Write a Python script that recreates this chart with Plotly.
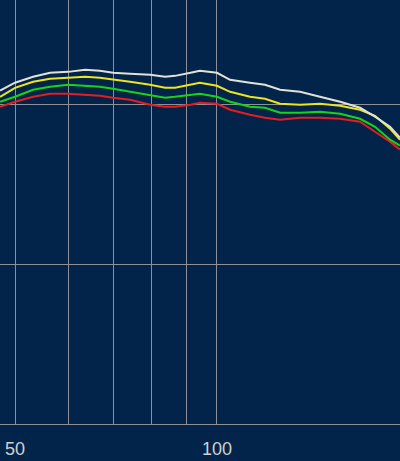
import plotly.graph_objects as go

# Frequencies (Hz)
freq = [47.5, 50, 53.2, 56.4, 60, 63.6, 66.9, 70, 74.2, 79.5, 83.7, 86.6, 91.3,
        94.3, 100, 104.6, 112, 117.9, 124.2, 133, 142.4, 152.6, 163.4, 172, 181.1, 187.4]

# Level curves (dB)
white_vals = [0.88, 1.38, 1.75, 2.0, 2.06, 2.19, 2.13, 2.0, 1.94, 1.88, 1.75, 1.81, 2.0,
              2.13, 2.0, 1.56, 1.38, 1.25, 0.94, 0.81, 0.5, 0.19, -0.19, -0.75, -1.38, -2.06]
yellow_vals = [0.5, 1.06, 1.44, 1.63, 1.69, 1.75, 1.69, 1.56, 1.44, 1.25, 1.06, 1.06, 1.25,
               1.38, 1.19, 0.81, 0.5, 0.38, 0.06, 0.0, 0.06, -0.06, -0.31, -0.69, -1.5, -2.19]
green_vals = [0.19, 0.5, 0.94, 1.13, 1.25, 1.19, 1.13, 1.0, 0.81, 0.56, 0.44, 0.5, 0.63,
              0.69, 0.5, 0.19, -0.13, -0.19, -0.5, -0.5, -0.44, -0.56, -0.88, -1.38, -2.19, -2.56]
red_vals = [-0.13, 0.19, 0.5, 0.69, 0.69, 0.63, 0.56, 0.44, 0.31, 0.0, -0.13, -0.13, 0.0,
            0.13, 0.06, -0.31, -0.63, -0.81, -0.94, -0.81, -0.81, -0.88, -1.06, -1.69, -2.31, -2.81]

x_tickvals = [50, 60, 70, 80, 90, 100]
x_ticktext = ["50", "", "", "", "", "100"]
y_tickvals = [-20, -10, 0]

series = [
    (red_vals, "#e41e1e"),
    (green_vals, "#18d418"),
    (yellow_vals, "#ece41c"),
    (white_vals, "#e2e2d4"),
]

fig = go.Figure()
for vals, color in series:
    fig.add_trace(go.Scatter(x=freq, y=vals, mode="lines",
                             line=dict(color=color, width=2), showlegend=False,
                             hoverinfo="skip"))

bg = "#03244a"
grid = "#8e9096"
fig.update_layout(
    width=400, height=461,
    margin=dict(l=0, r=0, t=0, b=37),
    paper_bgcolor=bg, plot_bgcolor=bg,
    font=dict(family="Liberation Sans, Arial, sans-serif", size=18, color="#cfcfcf"),
    xaxis=dict(type="log", range=[1.6766, 2.2728], tickvals=x_tickvals, ticktext=x_ticktext,
               showgrid=True, gridcolor=grid, gridwidth=1, zeroline=False,
               showline=True, linecolor=grid, linewidth=1,
               ticks="", ticklabelstandoff=8),
    yaxis=dict(range=[-20, 6.5625], tickvals=y_tickvals, showticklabels=False,
               showgrid=True, gridcolor=grid, gridwidth=1, zeroline=False,
               showline=False),
)

fig.write_html("out.html", config={"displayModeBar": False},
               post_script="document.body.style.margin='0';")
